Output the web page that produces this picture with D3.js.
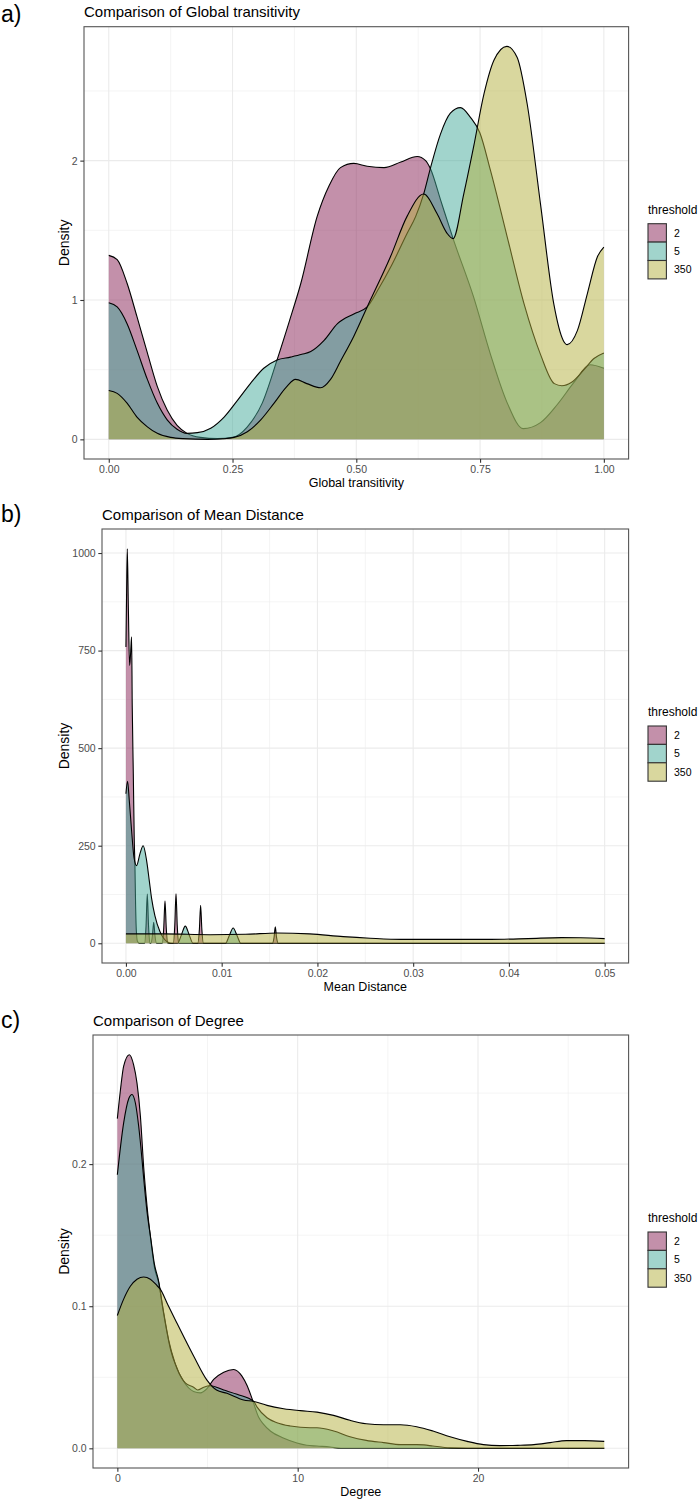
<!DOCTYPE html>
<html>
  <head>
    <meta charset="utf-8">
    <title>threshold densities</title>
    <script src="https://cdn.jsdelivr.net/npm/d3@7/dist/d3.min.js"></script>
    <style>
      body { margin: 0; background: #fff; }
      text { font-family: "Liberation Sans", Arial, sans-serif; }
    </style>
  </head>
  <body>
    <svg width="700" height="1500" id="mainsvg" style="display: block"></svg>
    <script>
      const thresholds = ["2", "5", "350"];
      const fills = ["#882255", "#44AA99", "#B4AF3E"];

      // a) global transitivity, [x, density]
      const trans2 = [[0,1.32],[0.017,1.29],[0.037,1.12],[0.057,0.88],[0.078,0.62],[0.098,0.38],[0.118,0.21],[0.138,0.10],
        [0.158,0.043],[0.185,0.014],[0.22,0.005],[0.25,0.014],[0.28,0.09],[0.31,0.26],[0.34,0.57],[0.365,0.85],[0.388,1.12],
        [0.421,1.60],[0.445,1.82],[0.468,1.95],[0.495,1.98],[0.522,1.96],[0.556,1.95],[0.59,1.99],[0.623,2.03],[0.64,2.0],
        [0.65,1.94],[0.67,1.72],[0.6955,1.44],[0.737,1.02],[0.771,0.61],[0.805,0.26],[0.837,0.077],[0.872,0.12],[0.906,0.25],
        [0.94,0.41],[0.972,0.535],[1.0,0.51]];
      const trans5 = [[0,0.98],[0.017,0.95],[0.037,0.83],[0.057,0.64],[0.078,0.43],[0.098,0.26],[0.118,0.14],[0.138,0.072],
        [0.158,0.043],[0.179,0.048],[0.206,0.08],[0.233,0.16],[0.26,0.28],[0.286,0.40],[0.313,0.51],[0.34,0.57],[0.367,0.59],
        [0.39,0.61],[0.408,0.63],[0.435,0.71],[0.462,0.83],[0.495,0.90],[0.522,0.95],[0.545,1.08],[0.57,1.24],[0.603,1.48],
        [0.62,1.60],[0.636,1.76],[0.65,1.95],[0.67,2.19],[0.69,2.34],[0.7104,2.38],[0.7306,2.31],[0.7495,2.2],[0.771,1.93],
        [0.805,1.45],[0.839,0.97],[0.872,0.61],[0.9,0.40],[0.915,0.385],[0.935,0.41],[0.96,0.50],[0.98,0.58],[1.0,0.62]];
      const trans350 = [[0,0.35],[0.017,0.33],[0.037,0.26],[0.057,0.16],[0.078,0.09],[0.098,0.043],[0.125,0.014],[0.15,0.005],
        [0.2,0.0],[0.23,0.004],[0.253,0.014],[0.28,0.055],[0.307,0.14],[0.334,0.26],[0.36,0.38],[0.377,0.43],[0.40,0.40],
        [0.428,0.37],[0.448,0.43],[0.468,0.56],[0.495,0.74],[0.522,0.95],[0.569,1.31],[0.6025,1.60],[0.636,1.76],[0.663,1.62],
        [0.683,1.48],[0.6955,1.44],[0.717,1.76],[0.737,2.10],[0.758,2.48],[0.778,2.72],[0.804,2.82],[0.825,2.74],[0.845,2.41],
        [0.872,1.69],[0.899,0.97],[0.918,0.71],[0.926,0.68],[0.9465,0.78],[0.967,1.05],[0.987,1.31],[1.0,1.38]];

      // b) mean distance
      const dist2 = [[0,759],[0.00007,900],[0.00014,1011],[0.00026,850],[0.00038,712],[0.00048,740],[0.00059,785],[0.00066,605],
        [0.00077,434],[0.00087,263],[0.00094,200],[0.001,110],[0.00108,35],[0.0012,5],[0.0014,0],
        [0.00195,0],[0.0021,45],[0.00223,126],[0.00236,45],[0.0025,0],
        [0.0026,0],[0.00277,20],[0.0029,54],[0.00303,20],[0.0032,0],
        [0.0038,0],[0.00395,40],[0.00408,109],[0.00421,40],[0.00436,0],
        [0.00495,0],[0.0051,45],[0.00523,127],[0.00536,45],[0.0055,0],
        [0.0075,0],[0.00767,35],[0.0078,97],[0.00793,35],[0.0081,0],
        [0.0153,0],[0.01547,15],[0.0156,42],[0.01573,15],[0.0159,0],[0.05,0]];
      const dist5 = [[0,383],[0.00017,415],[0.00035,366],[0.00059,289],[0.00084,220],[0.00111,199],[0.00146,229],[0.0018,250],
        [0.00216,212],[0.00244,160],[0.00268,115],[0.00303,70],[0.00355,30],[0.0039,14],[0.0043,4],[0.0047,0],
        [0.0054,0],[0.0058,22],[0.0062,44],[0.0066,22],[0.007,0],
        [0.0104,0],[0.0108,20],[0.0112,39],[0.0116,20],[0.012,0],[0.05,0]];
      const dist350 = [[0,24],[0.004,24],[0.0088,22],[0.0125,23],[0.0158,26.5],[0.0192,24],[0.0227,17],[0.0255,13],[0.0288,10],
        [0.0335,10],[0.0381,10],[0.042,12],[0.0455,14.5],[0.0475,14],[0.05,12]];

      // c) degree
      const deg2 = [[0,0.232],[0.17,0.252],[0.35,0.269],[0.665,0.277],[0.9,0.27],[1.09,0.257],[1.28,0.2335],[1.46,0.198],
        [1.65,0.17],[1.85,0.147],[2.05,0.128],[2.3,0.116],[2.55,0.097],[2.85,0.076],[3.2,0.06],[3.68,0.047],[4.23,0.040],
        [4.6,0.039],[4.97,0.042],[5.34,0.0485],[5.9,0.0536],[6.45,0.0555],[6.9,0.051],[7.2,0.044],[7.47,0.035],[7.83,0.022],
        [8.1,0.017],[8.5,0.012],[9.2,0.0073],[9.96,0.0038],[10.5,0.0022],[11.07,0.0016],[11.8,0.0009],[12.4,0],[27,0]];
      const deg5 = [[0,0.1925],[0.35,0.229],[0.63,0.246],[0.81,0.249],[1.0,0.243],[1.18,0.227],[1.37,0.203],[1.46,0.19],
        [1.65,0.166],[1.85,0.148],[2.05,0.13],[2.3,0.117],[2.5,0.1],[2.66,0.088],[2.94,0.07],[3.31,0.056],[3.77,0.046],
        [4.23,0.043],[4.45,0.041],[4.79,0.043],[5.16,0.044],[5.9,0.041],[6.64,0.038],[7.56,0.033],[7.75,0.029],[8.3,0.0215],
        [8.85,0.018],[9.6,0.0157],[10.7,0.0145],[11.07,0.0145],[12.0,0.0122],[12.9,0.0082],[13.8,0.0056],[14.77,0.004],
        [15.7,0.0026],[16.6,0.0026],[17.0,0.0024],[17.5,0.0016],[18.45,0.0003],[19.4,0],[27,0]];
      const deg350 = [[0,0.0935],[0.35,0.105],[0.72,0.114],[1.09,0.119],[1.46,0.1206],[1.83,0.119],[2.2,0.1145],[2.38,0.112],
        [2.8,0.101],[3.31,0.088],[4.23,0.065],[4.97,0.048],[5.5,0.041],[6.08,0.0387],[7.0,0.034],[7.56,0.033],[8.3,0.0302],
        [9.22,0.0279],[10.15,0.0265],[11.07,0.0255],[11.99,0.0232],[12.9,0.0197],[13.8,0.0173],[14.77,0.0166],[15.7,0.0166],
        [16.6,0.0152],[17.5,0.0122],[18.45,0.0082],[19.4,0.0049],[20.3,0.0026],[21.2,0.0019],[22.2,0.0021],[23.1,0.0026],
        [24.0,0.004],[24.9,0.0054],[25.9,0.0054],[27.0,0.0049]];

      const transXTicks = [0, 0.25, 0.5, 0.75, 1];
      const transYTicks = [0, 1, 2];
      const distXTicks = [0, 0.01, 0.02, 0.03, 0.04, 0.05];
      const distYTicks = [0, 250, 500, 750, 1000];
      const degXTicks = [0, 10, 20];
      const degYTicks = [0, 0.1, 0.2];

      const panels = [
        { letter: "a)", title: "Comparison of Global transitivity", xLabel: "Global transitivity",
          series: [trans2, trans5, trans350], xTicks: transXTicks, yTicks: transYTicks,
          xFmt: d3.format(".2f"), yFmt: d3.format("d"),
          box: { left: 84, right: 628.6, top: 26.7, bottom: 459 }, letterY: 22 },
        { letter: "b)", title: "Comparison of Mean Distance", xLabel: "Mean Distance",
          series: [dist2, dist5, dist350], xTicks: distXTicks, yTicks: distYTicks,
          xFmt: d3.format(".2f"), yFmt: d3.format("d"),
          box: { left: 102, right: 628.6, top: 529, bottom: 963 }, letterY: 522 },
        { letter: "c)", title: "Comparison of Degree", xLabel: "Degree",
          series: [deg2, deg5, deg350], xTicks: degXTicks, yTicks: degYTicks,
          xFmt: d3.format("d"), yFmt: d3.format(".1f"),
          box: { left: 93, right: 628.6, top: 1035, bottom: 1468 }, letterY: 1028 },
      ];

      const svg = d3.select("#mainsvg");

      function midpoints(ticks, domain) {
        const step = ticks[1] - ticks[0];
        const out = [];
        for (let v = ticks[0] - step / 2; v <= domain[1]; v += step) {
          if (v >= domain[0]) out.push(v);
        }
        return out;
      }

      function render(p) {
        const b = p.box;
        const g = svg.append("g");
        const allPts = p.series.flat();
        const [x0, x1] = d3.extent(allPts, (d) => d[0]);
        const yMax = d3.max(allPts, (d) => d[1]);
        const xPad = (x1 - x0) * 0.05;
        const x = d3.scaleLinear().domain([x0 - xPad, x1 + xPad]).range([b.left, b.right]);
        const y = d3.scaleLinear().domain([-yMax * 0.05, yMax * 1.05]).range([b.bottom, b.top]);

        // grid
        const grid = g.append("g");
        grid.selectAll(".vminor").data(midpoints(p.xTicks, x.domain())).join("line")
          .attr("x1", (d) => x(d)).attr("x2", (d) => x(d)).attr("y1", b.top).attr("y2", b.bottom)
          .attr("stroke", "#ebebeb").attr("stroke-width", 0.55);
        grid.selectAll(".hminor").data(midpoints(p.yTicks, y.domain())).join("line")
          .attr("y1", (d) => y(d)).attr("y2", (d) => y(d)).attr("x1", b.left).attr("x2", b.right)
          .attr("stroke", "#ebebeb").attr("stroke-width", 0.55);
        grid.selectAll(".vmajor").data(p.xTicks).join("line")
          .attr("x1", (d) => x(d)).attr("x2", (d) => x(d)).attr("y1", b.top).attr("y2", b.bottom)
          .attr("stroke", "#ebebeb").attr("stroke-width", 1.1);
        grid.selectAll(".hmajor").data(p.yTicks).join("line")
          .attr("y1", (d) => y(d)).attr("y2", (d) => y(d)).attr("x1", b.left).attr("x2", b.right)
          .attr("stroke", "#ebebeb").attr("stroke-width", 1.1);

        // densities: fill then upper outline, group by group
        const area = d3.area().x((d) => x(d[0])).y0(y(0)).y1((d) => y(d[1])).curve(d3.curveMonotoneX);
        const line = d3.line().x((d) => x(d[0])).y((d) => y(d[1])).curve(d3.curveMonotoneX);
        p.series.forEach((s, i) => {
          g.append("path").attr("d", area(s)).attr("fill", fills[i]).attr("fill-opacity", 0.5);
          g.append("path").attr("d", line(s)).attr("fill", "none").attr("stroke", "#000")
            .attr("stroke-width", 1.1).attr("stroke-linejoin", "round");
        });

        // border
        g.append("rect").attr("x", b.left).attr("y", b.top)
          .attr("width", b.right - b.left).attr("height", b.bottom - b.top)
          .attr("fill", "none").attr("stroke", "#555").attr("stroke-width", 1.1);

        // axes
        const xAxis = g.append("g").attr("transform", `translate(0,${b.bottom})`)
          .call(d3.axisBottom(x).tickValues(p.xTicks).tickFormat(p.xFmt).tickSize(3.7).tickPadding(2.6));
        const yAxis = g.append("g").attr("transform", `translate(${b.left},0)`)
          .call(d3.axisLeft(y).tickValues(p.yTicks).tickFormat(p.yFmt).tickSize(3.7).tickPadding(2.6));
        [xAxis, yAxis].forEach((a) => {
          a.select(".domain").remove();
          a.selectAll(".tick line").attr("stroke", "#333").attr("stroke-width", 1.1);
          a.selectAll(".tick text").attr("fill", "#4d4d4d").attr("font-size", 10.5)
            .style("font-family", '"Liberation Sans", Arial, sans-serif');
        });

        // titles
        g.append("text").attr("x", b.left).attr("y", b.top - 9.3).attr("font-size", 15).attr("fill", "#000").text(p.title);
        g.append("text").attr("x", 1).attr("y", p.letterY).attr("font-size", 23).attr("fill", "#000").text(p.letter);
        g.append("text").attr("x", (b.left + b.right) / 2).attr("y", b.bottom + 28).attr("text-anchor", "middle")
          .attr("font-size", 12.5).attr("fill", "#000").text(p.xLabel);
        g.append("text").attr("transform", `translate(69,${(b.top + b.bottom) / 2}) rotate(-90)`)
          .attr("text-anchor", "middle").attr("font-size", 14).attr("fill", "#000").text("Density");

        // legend
        const lg = g.append("g").attr("transform", `translate(648,${b.top + 187})`);
        lg.append("text").attr("x", 0).attr("y", 0).attr("font-size", 12).attr("fill", "#000").text("threshold");
        const keys = lg.selectAll(".key").data(thresholds).join("g")
          .attr("transform", (d, i) => `translate(0,${10 + i * 18.4})`);
        keys.append("rect").attr("width", 18.4).attr("height", 18.4).attr("fill", "#fff");
        keys.append("rect").attr("width", 18.4).attr("height", 18.4)
          .attr("fill", (d, i) => fills[i]).attr("fill-opacity", 0.5)
          .attr("stroke", "#333").attr("stroke-width", 1.1);
        keys.append("text").attr("x", 26).attr("y", 9.2).attr("dy", "0.35em")
          .attr("font-size", 10.5).attr("fill", "#000").text((d) => d);
      }

      panels.forEach(render);
    </script>
  </body>
</html>
